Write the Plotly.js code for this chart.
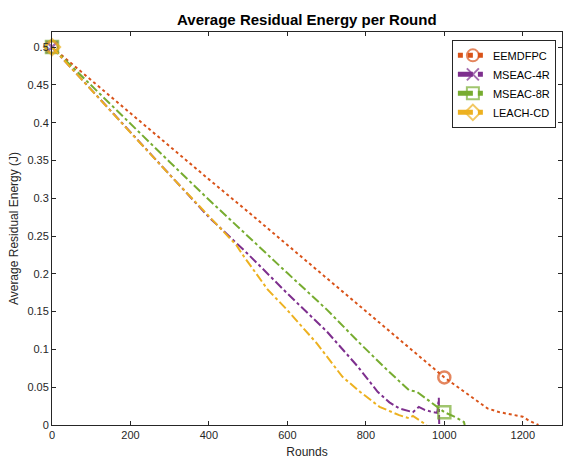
<!DOCTYPE html>
<html><head><meta charset="utf-8">
<script src="https://cdn.plot.ly/plotly-3.0.1.min.js"></script>
<style>body{margin:0;padding:0;background:#fff}#chart{width:563px;height:459px}</style>
</head><body><div id="chart"></div>
<script>
const seriesNames = ["EEMDFPC", "MSEAC-4R", "MSEAC-8R", "LEACH-CD"];
const eemdfpcX = [0,100,200,300,400,500,600,700,800,900,1000,1040,1090,1110,1140,1170,1200,1215,1230,1240];
const eemdfpcY = [0.5,0.456,0.413,0.369,0.325,0.282,0.238,0.194,0.150,0.107,0.063,0.048,0.029,0.022,0.017,0.014,0.011,0.006,0.002,0];
const mseac4rX = [0,100,200,300,400,500,600,700,780,830,860,885,905,920,935,950,970,982,986,987];
const mseac4rY = [0.5,0.444,0.388,0.331,0.275,0.226,0.174,0.124,0.077,0.044,0.030,0.022,0.019,0.017,0.024,0.020,0.017,0.016,0.036,0];
const mseac8rX = [0,100,200,300,400,500,600,700,785,850,910,930,960,990,1000,1030,1050,1052];
const mseac8rY = [0.5,0.449,0.398,0.348,0.298,0.249,0.201,0.153,0.108,0.075,0.046,0.044,0.032,0.020,0.017,0.010,0.004,0];
const leachcdX = [0,100,200,300,400,470,485,550,600,675,740,785,835,885,910,920,940,955];
const leachcdY = [0.5,0.443,0.387,0.331,0.277,0.238,0.226,0.179,0.152,0.108,0.064,0.044,0.024,0.013,0.009,0.012,0.005,0];
const markerRounds = [0, 1000];
const xTicks = [0,200,400,600,800,1000,1200];
const yTicks = [0,0.05,0.1,0.15,0.2,0.25,0.3,0.35,0.4,0.45,0.5];
const yTickText = ["0","0.05","0.1","0.15","0.2","0.25","0.3","0.35","0.4","0.45","0.5"];

const colors = ["#D95319", "#7E2F8E", "#77AC30", "#EDB120"];
const dashes = ["dot", "dashdot", "dashdot", "dashdot"];
const symbols = ["circle-open", "x-thin-open", "square-open", "diamond-open"];
const xs = [eemdfpcX, mseac4rX, mseac8rX, leachcdX];
const ys = [eemdfpcY, mseac4rY, mseac8rY, leachcdY];

const traces = seriesNames.map((name, i) => ({
  x: xs[i], y: ys[i], name: name, type: "scatter", mode: "lines+markers",
  cliponaxis: false,
  line: {color: colors[i], width: 2, dash: dashes[i]},
  marker: {symbol: symbols[i], color: colors[i],
    size: xs[i].map(v => markerRounds.includes(v) ? 12 : 0),
    line: {color: colors[i], width: 2.5}}
}));

const axisCommon = {
  showgrid: false, zeroline: false, showline: true, mirror: "ticks",
  linecolor: "#262626", linewidth: 1, ticks: "inside", ticklen: 4,
  tickcolor: "#262626", tickfont: {family: "Liberation Sans, Arial", size: 11, color: "#262626"}
};

const layout = {
  width: 563, height: 459,
  margin: {l: 52, r: 1, t: 32, b: 34},
  paper_bgcolor: "#fff", plot_bgcolor: "#fff",
  title: {text: "<b>Average Residual Energy per Round</b>", x: 0.545, xanchor: "center", y: 0.957, yanchor: "middle",
    font: {family: "Liberation Sans, Arial", size: 15, color: "#000"}},
  xaxis: Object.assign({}, axisCommon, {range: [0, 1300], tickvals: xTicks,
    title: {text: "Rounds", standoff: 9, font: {family: "Liberation Sans, Arial", size: 12, color: "#262626"}}}),
  yaxis: Object.assign({}, axisCommon, {range: [0, 0.52], tickvals: yTicks, ticktext: yTickText,
    title: {text: "Average Residual Energy (J)", standoff: 6, font: {family: "Liberation Sans, Arial", size: 12, color: "#262626"}}}),
  legend: {x: 0.988, xanchor: "right", y: 0.98, yanchor: "top", bgcolor: "#fff",
    bordercolor: "#262626", borderwidth: 1, itemsizing: "constant", itemwidth: 30,
    font: {family: "Liberation Sans, Arial", size: 11, color: "#000"}, tracegroupgap: 0},
  showlegend: true
};
Plotly.newPlot("chart", traces, layout, {staticPlot: true, displayModeBar: false});
</script></body></html>
